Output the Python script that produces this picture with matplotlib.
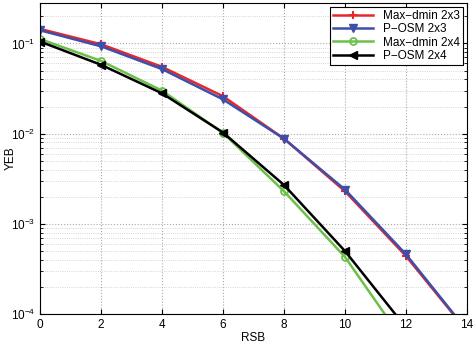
import numpy as np
import matplotlib
matplotlib.use("Agg")
import matplotlib.pyplot as plt

plt.rcParams['font.family'] = ['Liberation Sans', 'DejaVu Sans']

rsb = [0, 2, 4, 6, 8, 10, 12, 14]
maxdmin_2x3 = [0.145, 0.098, 0.055, 0.026, 0.0088, 0.0023, 4.4e-4, 6.5e-5]
posm_2x3 = [0.140, 0.093, 0.052, 0.024, 0.0088, 0.0024, 4.6e-4, 6.6e-5]
maxdmin_2x4 = [0.112, 0.064, 0.030, 0.0102, 0.0023, 4.3e-4, 4.6e-5]
posm_2x4 = [0.105, 0.058, 0.028, 0.0103, 0.0027, 5.0e-4, 7.1e-5]

fig = plt.figure(figsize=(4.77, 3.46), dpi=100)
ax = fig.add_axes([0.084, 0.092, 0.895, 0.899])

ax.semilogy(rsb, maxdmin_2x3, color='#e8262c', lw=1.8, marker='+', ms=6, mew=1.5, label='Max\u2212dmin 2x3')
ax.semilogy(rsb, posm_2x3, color='#3d4fa8', lw=1.8, marker='v', ms=6, label='P\u2212OSM 2x3')
ax.semilogy(rsb[:7], maxdmin_2x4, color='#6cc04a', lw=1.8, marker='o', ms=5, mfc='none', mew=1.3, label='Max\u2212dmin 2x4')
ax.semilogy(rsb[:7], posm_2x4, color='black', lw=1.8, marker='<', ms=6, label='P\u2212OSM 2x4')

ax.set_xlim(0, 14)
ax.set_ylim(1e-4, 0.28)
ax.set_xticks(range(0, 15, 2))
ax.grid(True, which='major', ls=':', color='#aaaaaa', lw=0.8)
ax.grid(True, which='minor', ls=':', color='#c8c8c8', lw=0.6)
ax.tick_params(which='both', direction='in', top=True, right=True, labelsize=8.5)
ax.set_xlabel('RSB', fontsize=8.5, labelpad=1)
ax.set_ylabel('YEB', fontsize=8.5)
ax.yaxis.set_label_coords(-0.055, 0.5)

leg = ax.legend(loc='upper right', fontsize=8.5, fancybox=False, edgecolor='black',
                framealpha=1, borderpad=0.3, labelspacing=0.1, handlelength=3.4,
                borderaxespad=0.3)
leg.get_frame().set_linewidth(0.8)

fig.savefig('out.png', dpi=100)
